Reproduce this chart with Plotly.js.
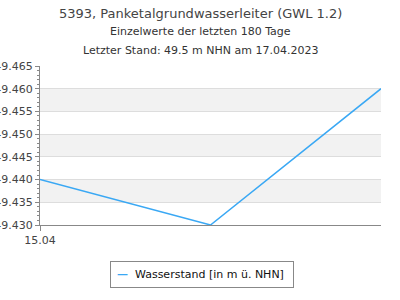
<!DOCTYPE html>
<html><head><meta charset="utf-8">
<script src="https://cdn.plot.ly/plotly-3.0.1.min.js"></script>
<style>html,body{margin:0;padding:0;background:#fff;}#chart{width:400px;height:300px;}</style>
</head><body><div id="chart"></div>
<script>
const dates = ["2023-04-15", "2023-04-16", "2023-04-17"];
const values = [49.440, 49.430, 49.460];
const seriesName = "Wasserstand [in m ü. NHN]";
const titleLines = ["5393, Panketalgrundwasserleiter (GWL 1.2)", "Einzelwerte der letzten 180 Tage", "Letzter Stand: 49.5 m NHN am 17.04.2023"];
const xTickVals = ["2023-04-15"];
const xTickText = ["15.04"];
const yTickVals = [49.430, 49.435, 49.440, 49.445, 49.450, 49.455, 49.460, 49.465];
const yTickText = ["49.430", "49.435", "49.440", "49.445", "49.450", "49.455", "49.460", "49.465"];
const bandStarts = [49.435, 49.445, 49.455];
const lineColor = '#3aa8f4';

const shapes = bandStarts.map(b => ({type:'rect', xref:'paper', yref:'y', x0:0, x1:1, y0:b, y1:b+0.005, fillcolor:'#f2f2f2', line:{width:0}, layer:'below'}));

const L=40, R=19, T=66, B=75, W=400, H=300;
const plotW = W-L-R, plotH = H-T-B;
const px = x => (x-L)/plotW;
const py = y => (H-B-y)/plotH;

const layout = {
  width:W, height:H,
  margin:{l:L, r:R, t:T, b:B, autoexpand:false},
  paper_bgcolor:'#fff', plot_bgcolor:'#fff',
  font:{family:'DejaVu Sans, sans-serif', size:11, color:'#444'},
  showlegend:false,
  xaxis:{type:'date', range:['2023-04-15','2023-04-17'], tickvals:xTickVals, ticktext:xTickText, ticks:'outside', ticklen:5, tickcolor:'#888', showline:true, linecolor:'#888', linewidth:1, showgrid:false, zeroline:false, tickfont:{size:11, color:'#444'}, fixedrange:true},
  yaxis:{range:[49.430, 49.465], tickvals:yTickVals, ticktext:yTickText, ticks:'outside', ticklen:4, tickcolor:'#888', showline:true, linecolor:'#888', showgrid:true, gridcolor:'#ddd', zeroline:false, tickfont:{size:11, color:'#444'},
    minor:{dtick:0.001, ticks:'outside', ticklen:2, tickcolor:'#888', showgrid:false}},
  shapes:shapes,
  annotations:[
    {text:titleLines[0], x:px(200), y:py(13), font:{size:13, color:'#444'}},
    {text:titleLines[1], x:px(200), y:py(31), font:{size:11, color:'#333'}},
    {text:titleLines[2], x:px(200), y:py(50), font:{size:11, color:'#333'}},
    {text:"<span style='color:"+lineColor+"'><b>—</b></span>&nbsp;&nbsp;"+seriesName+"&nbsp;", x:px(201.5), y:py(274), font:{size:11, color:'#111'},
     bordercolor:'#888', borderwidth:1, borderpad:6, bgcolor:'#fff'}
  ].map(a => Object.assign({xref:'paper', yref:'paper', xanchor:'center', yanchor:'middle', showarrow:false}, a))
};

Plotly.newPlot('chart', [{x:dates, y:values, type:'scatter', mode:'lines', name:seriesName, line:{color:lineColor, width:1.5}}], layout, {staticPlot:true});
</script></body></html>
